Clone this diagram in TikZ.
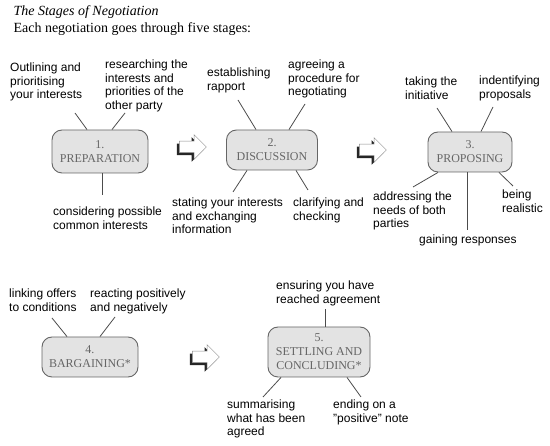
\documentclass[tikz,border=0pt]{standalone}
\usepackage{fontspec}
\setmainfont{Liberation Serif}
\setsansfont{Liberation Sans}
\usetikzlibrary{%
  shapes.arrows,% wg. single arrow
  shadows%
}

\begin{document}
\begin{tikzpicture}
[x=1pt, y=-1pt,
stage/.style={rectangle, rounded corners=10pt, draw=black!60, line width=0.9pt, fill=black!11, text=black!60, font=\fontsize{12}{14}\selectfont, align=center, inner sep=0pt, minimum height=40pt},
note/.style={anchor=north west, align=left, inner sep=1pt, font=\sffamily\fontsize{12}{13.5}\selectfont},
link/.style={draw=black!70, line width=0.8pt},
turn/.style={single arrow, draw=black!45, fill=white, line width=0.5pt, inner sep=5.5pt, minimum height=27pt, single arrow head extend=6.5pt, drop shadow={shadow xshift=-2.5pt, shadow yshift=-2.5pt, fill=black!85, opacity=1}}]

\useasboundingbox (0,0) rectangle (550,446);

% heading
\node[anchor=base west, font=\fontsize{14}{16}\selectfont\itshape] (title) at (10,16) {The Stages of Negotiation};
\node[anchor=base west, font=\fontsize{14}{16}\selectfont] (intro) at (10,33) {Each negotiation goes through five stages:};

% stages
\node[stage, minimum width=96pt, minimum height=43pt] (prep) at (100,151.5) {1.\\PREPARATION};
\node[stage, minimum width=91pt] (disc) at (272,150) {2.\\DISCUSSION};
\node[stage, minimum width=84pt] (prop) at (470,152) {3.\\PROPOSING};
\node[stage, minimum width=96pt] (barg) at (90,357) {4.\\BARGAINING*};
\node[stage, minimum width=102pt, minimum height=50pt] (settle) at (319,352) {5.\\SETTLING AND\\CONCLUDING*};

\node[turn] (go1) at (190,147) {};
\node[turn] (go2) at (370,150) {};
\node[turn] (go3) at (203,357) {};

% notes
\node[note] (outline) at (9,62) {Outlining and\\prioritising\\your interests};
\node[note] (research) at (104,59) {researching the\\interests and\\priorities of the\\other party};
\node[note] (common) at (52,206) {considering possible\\common interests};
\node[note] (rapport) at (206,67) {establishing\\rapport};
\node[note] (procedure) at (287,59) {agreeing a\\procedure for\\negotiating};
\node[note] (stating) at (171,197) {stating your interests\\and exchanging\\information};
\node[note] (clarify) at (292,197) {clarifying and\\checking};
\node[note] (initiative) at (404,76) {taking the\\initiative};
\node[note] (identify) at (478,75) {indentifying\\proposals};
\node[note] (needs) at (372,191) {addressing the\\needs of both\\parties};
\node[note] (realistic) at (501,189) {being\\realistic};
\node[note] (responses) at (418,234) {gaining responses};
\node[note] (linking) at (8,288) {linking offers\\to conditions};
\node[note] (reacting) at (89,288) {reacting positively\\and negatively};
\node[note] (ensuring) at (275,280) {ensuring you have\\reached agreement};
\node[note] (summary) at (226,399) {summarising\\what has been\\agreed};
\node[note] (ending) at (332,399) {ending on a\\{\char34}positive{\char34} note};

% line ends near the notes
\coordinate (outline end) at (75,113);
\coordinate (research end) at (125,113);
\coordinate (common end) at (102,195);
\coordinate (rapport end) at (238,100);
\coordinate (procedure end) at (305,104);
\coordinate (stating end) at (233,192);
\coordinate (clarify end) at (308,190);
\coordinate (initiative end) at (437,108);
\coordinate (identify end) at (493,107);
\coordinate (needs end) at (413,187);
\coordinate (realistic end) at (513,186);
\coordinate (responses end) at (467,230);
\coordinate (linking end) at (52,318);
\coordinate (reacting end) at (115,317);
\coordinate (ensuring end) at (325,309);
\coordinate (summary end) at (263,397);
\coordinate (ending end) at (361,397);

\foreach \stage/\side/\dx/\tip in {prep/north/-13/outline, prep/north/12/research, prep/south/2/common,
  disc/north/-16/rapport, disc/north/17/procedure, disc/south/-25/stating, disc/south/24/clarify,
  prop/north/-18/initiative, prop/north/11/identify, prop/south/-32/needs, prop/south/29/realistic, prop/south/-3/responses,
  barg/north/-23/linking, barg/north/10/reacting,
  settle/north/6/ensuring, settle/south/-38/summary, settle/south/28/ending}
	\draw[link] ([xshift=\dx pt]\stage.\side) -- (\tip\space end);
\end{tikzpicture}
\end{document}
